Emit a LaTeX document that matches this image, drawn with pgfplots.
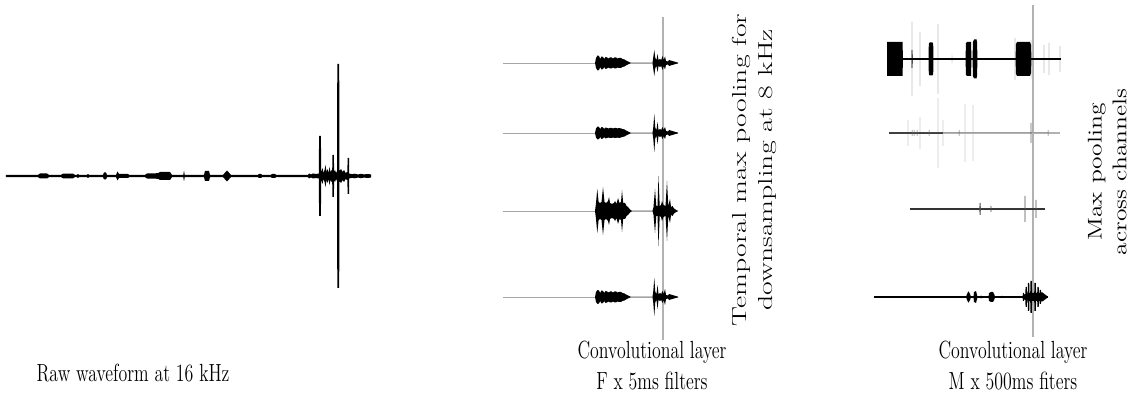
\documentclass[border=0pt]{standalone}
\usepackage{pgfplots}
\usepackage{pgfplotstable}
\usepackage{graphicx}
\pgfplotsset{compat=1.18}
\pgfplotsset{wave/.style={hide axis, x=0.58pt, y=0.58pt, anchor=west, clip=false, ymin=-1, ymax=1}}
\newcommand{\env}[2]{%
  \addplot[fill=#2, draw=none] table[x=x, y=a] {#1} \closedcycle;
  \addplot[fill=#2, draw=none] table[x=x, y expr=-\thisrow{a}] {#1} \closedcycle;}

% Raw waveform (x in px, a = half amplitude in px)
\pgfplotstableread{
x a
6 1.1
38 1.1
40 2.5
47 2.5
49 1.1
61 1.1
63 2.3
73 2.3
75 1.1
77 1.1
78 2.2
79 1.1
87 1.1
88 2
89 1.1
103 1.1
104 3.5
106 3.5
107 1.1
116 1.1
117.5 4.5
119 2
128 2
129 1.1
145 1.1
147 2.5
158 2.8
160 4
170 4
172 1.1
183.3 1.1
184 5.5
184.7 1.1
204 1.1
205 5
209 5
210 1.1
223 1.1
227 5.5
231 1.1
258 1.1
259 2
261 2
262 1.1
271 1.1
272 2
275 2
276 1.1
308 1.1
309 2.5
311 1.5
313 2.5
316 2
318.8 2.5
319.1 40
320.9 40
321.2 4
322.5 8
323.5 3
324.5 6
325.5 11
326.5 4
327.5 7
328.5 3
329.5 9
330.5 4
331.5 6
332.2 4
332.4 21
333.9 21
334.1 4
335 6
336 3
337 5
337.3 112
339.2 112
339.5 5
341 7
342.5 4
344 6
345.5 3
347.4 4
347.6 18
349 18
349.2 2.5
352 1.8
355 2.3
358 1.5
361 2.2
364 1.6
368 2
371 1.5
}\rawtab

% Panel 2 rows
\pgfplotstableread{
x a
595 0
596 5
597.5 7.5
599 7
600.2 4
601.5 6.5
603 6
604.2 4
605.5 6
607 5.5
608.5 4.5
610 5.5
611.5 5.5
613 4.5
614.5 5.5
616 5.5
617.5 4.5
619 5
621 5
622.5 4
624.5 3.5
626 2.5
628 1.5
630 0.5
631 0
652.5 0
653.3 6
654.3 13
655.3 5
656.5 3
657.5 9
658.5 3
660 4
661.2 3
662.5 7
663.7 3
665 6.5
666 2
668 1.5
669 3
670 2.7
674 1.5
678 0.3
}\cA
\pgfplotstableread{
x a
595 0
596 4.5
597.5 6.5
599 6
600.2 4
601.5 6
603 5.5
604.2 4
605.5 5.5
607 5
608.5 4.5
610 5
611.5 5
613 4.5
614.5 5
616 5
617.5 4.5
619 5
621 4.5
622.5 4
624.5 3.5
626 2.5
628 1.5
630 0.5
631 0
652.5 0
653.3 6
654.3 19
655.3 5
656.5 3
657.5 11
658.5 3
660 4
661.2 3
662.5 6
663.7 3
665 6
666 2
668 1.5
669 3
670 2.7
674 1.5
678 0.3
}\cB
\pgfplotstableread{
x a
595 0
596 8
597.3 22
598.6 9
600 8
601.5 9
603 24
604.5 9
606 8
608 10
609 14
610 8
612 7
614 8
615 10
616.5 7
618 13
619.5 8
621 9
622 21
623.2 8
625 8
626.5 5
628 4
630 1.5
632 0
652.5 0
653.5 4
655 22
656.3 5
657.5 5
658.5 35
659.7 5
661 6
662 10
663.5 6
665.5 5
667 30
668.3 5
670 12
671 4
672.5 5
674 2.5
677 0.5
678 0
}\cC
\pgfplotstableread{
x a
595 0
596 5
597.5 7
599 6.5
600.2 4
601.5 6.5
603 6
604.2 4
605.5 6
607 5.5
608.5 4.5
610 5.5
611.5 5.5
613 4.5
614.5 5.5
616 5.5
617.5 4.5
619 5
621 5
622.5 4
624.5 3.5
626 2.5
628 1.5
630 0.5
631 0
652.5 0
653.3 6
654.3 19
655.3 5
656.5 3
657.5 12
658.5 3
660 4
661.2 3
662.5 6
663.7 3
665 8
666 2
668 1.5
669 3
670 2.7
674 1.5
678 0.3
}\cD

% Panel 3 rows
\pgfplotstableread{
x a
887 0
887.2 17
902.5 17
903 0
911.5 0
911.7 9
912.4 9
912.6 0
928.5 0
928.8 15
929.5 16.5
932.5 16.5
933.2 15
933.5 0
965.5 0
966 16
967 17
971 17
971.5 0
972.5 0
973 17
974 19.5
976.5 19.5
977 17
977.5 0
1015.5 0
1016 15
1017 17
1030 17
1031 14
1031.5 0
1061 0
}\dAk
\pgfplotstableread{
x a
911.6 0
911.7 37
912.4 37
912.5 0
919.6 0
919.7 27
920.3 27
920.4 0
937.6 0
937.7 35
938.3 35
938.4 0
951.7 0
951.8 5
952.2 5
952.3 0
1014.6 0
1014.7 21
1015.3 21
1015.4 0
1031.6 0
1031.7 19
1032.3 19
1032.4 0
1043.6 0
1043.7 14
1044.3 14
1044.4 0
1048.6 0
1048.7 16
1049.3 16
1049.4 0
1059.6 0
1059.7 13
1060.3 13
1060.4 0
}\dAg
\pgfplotstableread{
x a
907.6 0
907.7 13
908.3 13
908.4 0
919.6 0
919.7 16
920.3 16
920.4 0
937.6 0
937.7 35
938.3 35
938.4 0
942.6 0
942.7 13
943.3 13
943.4 0
964.6 0
964.7 29
965.3 29
965.4 0
972.6 0
972.7 28
973.3 28
973.4 0
}\dBg
\pgfplotstableread{
x a
911.8 0
911.9 3
912.3 3
912.4 0
913.8 0
913.9 3
914.3 3
914.4 0
916.8 0
916.9 3
917.3 3
917.4 0
928.8 0
928.9 3
929.3 3
929.4 0
958.8 0
958.9 3
959.3 3
959.4 0
1030.6 0
1030.7 10
1031.3 10
1031.4 0
1047.8 0
1047.9 3
1048.3 3
1048.4 0
}\dBk
\pgfplotstableread{
x a
979.4 0
979.6 6
980.6 6
980.8 0
990.6 0
990.7 3
991.3 3
991.4 0
1024.5 0
1024.6 13
1025.4 13
1025.5 0
1035.5 0
1035.6 9
1036.4 9
1036.5 0
}\dC
\pgfplotstableread{
x a
966 0
967 3
968.5 5.7
970 3
971 0
973.5 0
974 5
976 6
977.5 0
980.5 0
981 2
981.5 0
988.5 0
989 4
991 5
993 5
994.5 2
995 0
1001.8 0
1002 1.5
1002.3 0
1022.5 0
1023 4
1023.8 4
1024.2 2.5
1025.3 3
1025.6 10
1026.8 10
1027.1 3.5
1027.7 3.5
1028 14
1029.2 14
1029.5 4
1030.2 4
1030.5 16
1031.8 16
1032.1 4
1034.2 4
1034.5 14
1035.8 14
1036.1 4
1037.2 4
1037.5 10
1038.7 10
1039 4
1039.5 4
1039.8 7
1040.8 7
1041.2 4.5
1042.5 4.5
1045 2.5
1047 1
1048 0
}\dD

\begin{document}
\begin{tikzpicture}[x=0.58pt, y=-0.58pt]
\useasboundingbox (0,0) rectangle (1133,401);

% ---- Raw waveform
\begin{axis}[wave, at={(3.48pt,-102.08pt)}, xmin=6, xmax=371]
\env{\rawtab}{black}
\end{axis}

% ---- Panel 2
\begin{axis}[wave, at={(291.74pt,-36.54pt)}, xmin=503, xmax=678]
\addplot[gray!60, line width=0.6pt] coordinates {(663,46) (663,-277)};
\addplot[gray!70, line width=0.5pt] coordinates {(503,0) (678,0)};
\env{\cA}{black}
\end{axis}
\begin{axis}[wave, at={(291.74pt,-77.14pt)}, xmin=503, xmax=678]
\addplot[gray!70, line width=0.5pt] coordinates {(503,0) (678,0)};
\env{\cB}{black}
\end{axis}
\begin{axis}[wave, at={(291.74pt,-122.38pt)}, xmin=503, xmax=678]
\addplot[gray!70, line width=0.5pt] coordinates {(503,0) (678,0)};
\env{\cC}{black}
\end{axis}
\begin{axis}[wave, at={(291.74pt,-172.26pt)}, xmin=503, xmax=678]
\addplot[gray!70, line width=0.5pt] coordinates {(503,0) (678,0)};
\env{\cD}{black}
\end{axis}

% ---- Panel 3
\begin{axis}[wave, at={(514.46pt,-34.22pt)}, xmin=887, xmax=1061]
\addplot[gray!60, line width=0.6pt] coordinates {(1033,54) (1033,-278)};
\env{\dAg}{gray!50}
\addplot[black, line width=0.6pt] coordinates {(887,0) (1061,0)};
\env{\dAk}{black}
\end{axis}
\begin{axis}[wave, at={(515.62pt,-77.14pt)}, xmin=889, xmax=1060]
\env{\dBg}{gray!40}
\addplot[black!75, line width=0.6pt] coordinates {(889,0) (943,0)};
\addplot[gray!60, line width=0.9pt] coordinates {(943,0) (1060,0)};
\env{\dBk}{black!60}
\end{axis}
\begin{axis}[wave, at={(527.8pt,-121.22pt)}, xmin=910, xmax=1045]
\addplot[black!80, line width=0.6pt] coordinates {(910,0) (1045,0)};
\env{\dC}{black!70}
\end{axis}
\begin{axis}[wave, at={(506.92pt,-172.26pt)}, xmin=874, xmax=1048]
\addplot[black, line width=0.6pt] coordinates {(874,0) (1048,0)};
\env{\dD}{black}
\end{axis}

% ---- Labels
\node[inner sep=0] at (133,373) {\Large\scalebox{0.72}[1]{Raw waveform at 16 kHz}};
\node[inner sep=0] at (652,368) {\Large\scalebox{0.72}[1]{\begin{tabular}{@{}c@{}}Convolutional layer\\F x 5ms filters\end{tabular}}};
\node[inner sep=0] at (1013,368) {\Large\scalebox{0.72}[1]{\begin{tabular}{@{}c@{}}Convolutional layer\\M x 500ms fiters\end{tabular}}};
\node[inner sep=0, rotate=90] at (754,170) {\LARGE\scalebox{1}[0.68]{\begin{tabular}{@{}c@{}}Temporal max pooling for\\downsampling at 8 kHz\end{tabular}}};
\node[inner sep=0, rotate=90] at (1109,172) {\Large\scalebox{1.03}[0.8]{\begin{tabular}{@{}c@{}}Max pooling\\across channels\end{tabular}}};
\end{tikzpicture}
\end{document}
